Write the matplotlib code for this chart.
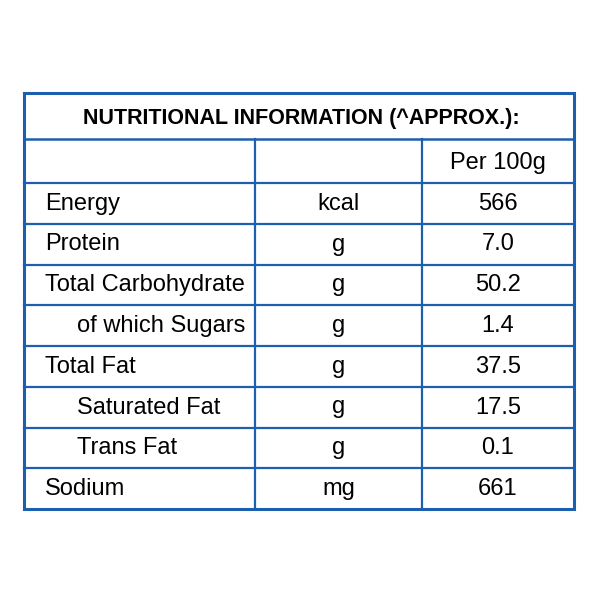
import matplotlib.pyplot as plt

# table content
title = "NUTRITIONAL INFORMATION (^APPROX.):"
header = ["", "", "Per 100g"]
nutrients = ["Energy", "Protein", "Total Carbohydrate", "of which Sugars",
             "Total Fat", "Saturated Fat", "Trans Fat", "Sodium"]
units = ["kcal", "g", "g", "g", "g", "g", "g", "mg"]
values = ["566", "7.0", "50.2", "1.4", "37.5", "17.5", "0.1", "661"]
sub_row = [False, False, False, True, False, True, True, False]

blue = "#1c5fae"
font = ["Liberation Sans", "DejaVu Sans"]

fig = plt.figure(figsize=(6, 6), dpi=100)
ax = fig.add_axes([0, 0, 1, 1])
ax.set_xlim(0, 600)
ax.set_ylim(600, 0)
ax.axis("off")

left, right = 24, 574
top, title_bot = 93, 139
col1, col2 = 255, 422
row0 = 183
row_h = (509 - row0) / len(nutrients)
bottom = row0 + row_h * len(nutrients)

# outer frame
ax.plot([left, right, right, left, left], [top, top, bottom, bottom, top],
        color=blue, lw=2.2, solid_joinstyle="miter")
# title line and row lines
ax.plot([left, right], [title_bot, title_bot], color=blue, lw=1.8)
for i in range(len(nutrients)):
    y = row0 + i * row_h
    ax.plot([left, right], [y, y], color=blue, lw=1.6)
# column lines
for x in (col1, col2):
    ax.plot([x, x], [title_bot, bottom], color=blue, lw=1.6)

ax.text((left + right) / 2 + 2, 124, title, ha="center", va="baseline",
        fontsize=15.5, fontweight="bold", family=font, color="black")
ax.text((col2 + right) / 2, 169, header[2], ha="center",
        va="baseline", fontsize=17, family=font)

for i, (name, unit, val) in enumerate(zip(nutrients, units, values)):
    yb = row0 + (i + 1) * row_h - 14
    x0 = 77 if sub_row[i] else 45
    ax.text(x0, yb, name, ha="left", va="baseline", fontsize=17, family=font)
    ax.text((col1 + col2) / 2, yb, unit, ha="center", va="baseline", fontsize=17, family=font)
    ax.text((col2 + right) / 2, yb, val, ha="center", va="baseline", fontsize=17, family=font)

fig.savefig("out.png", dpi=100)
